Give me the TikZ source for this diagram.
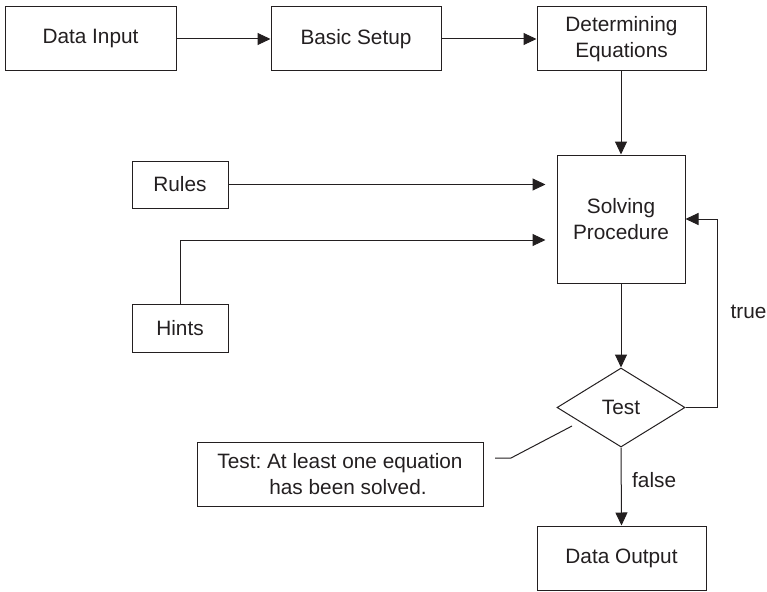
\documentclass[tikz,border=0pt]{standalone}
\usepackage{fontspec}
\setmainfont{Liberation Sans}
\usetikzlibrary{shapes.geometric,arrows.meta}
\definecolor{ink}{RGB}{35,31,32}
\frenchspacing
\begin{document}
\begin{tikzpicture}[x=1pt,y=-1pt,
  every node/.style={font=\fontsize{20.8}{26}\selectfont, text=ink},
  box/.style={draw=ink, line width=1pt, rectangle, inner sep=0pt, align=center},
  conn/.style={draw=ink, line width=1pt},
  arr/.style={conn, -{Triangle[length=13pt,width=12pt]}},
  lbl/.style={anchor=west, inner sep=0pt}
]
\useasboundingbox (0,0) rectangle (767,591);
\node[box, minimum width=171pt, minimum height=64pt] (din) at (90.5,39) {Data Input};
\node[box, minimum width=170pt, minimum height=64pt] (bs) at (356,39) {Basic Setup};
\node[box, minimum width=169pt, minimum height=64pt] (de) at (621.5,39) {Determining\\Equations};
\node[box, minimum width=128pt, minimum height=128pt] (sp) at (621,219) {Solving\\Procedure};
\node[box, minimum width=96pt, minimum height=47pt] (rules) at (180,184.5) {Rules};
\node[box, minimum width=96pt, minimum height=48pt] (hints) at (180,328) {Hints};
\node[draw=ink, line width=1pt, diamond, inner sep=0pt, minimum width=128pt, minimum height=79pt] (test) at (621,407.5) {Test};
\node[box, minimum width=286pt, minimum height=64pt] (note) at (340,474) {Test: At least one equation\\\hspace*{16pt}has been solved.};
\node[box, minimum width=169pt, minimum height=64pt] (dout) at (621.5,558) {Data Output};

\draw[arr] (din.east) -- (bs.west);
\draw[arr] (bs.west -| bs.east) -- (de.west);
\draw[arr] (sp.north |- de.south) -- (sp.north);
\draw[arr, shorten >=11pt] (rules.east) -- (rules.east -| sp.west);
\draw[arr, shorten >=11pt] (hints.north) |- ([yshift=-21pt]sp.west);
\draw[arr] (test.north |- sp.south) -- (test.north);
\draw[arr] (test.east) -- ++(32,0) |- (sp.east);
\draw[arr] (test.south) -- (dout.north);
\coordinate (c1) at (495,458);
\coordinate (c2) at (511,458);
\coordinate (c3) at (572,426);
\draw[conn] (c1) -- (c2) -- (c3);
\node[lbl] (ltrue) at (730.5,312) {true};
\node[lbl] (lfalse) at (632,480) {false};
\end{tikzpicture}
\end{document}
